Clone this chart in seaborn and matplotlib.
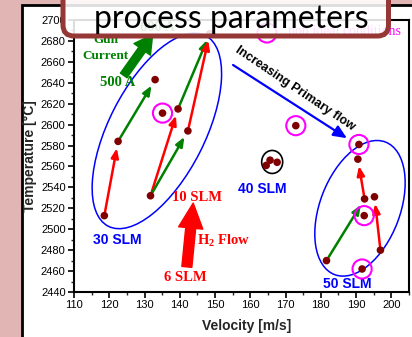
"""
Plasma torch process window - temperature vs velocity for several
primary flows, H2 flows and gun currents.
"""

import matplotlib
matplotlib.use("Agg")
import matplotlib.pyplot as plt
import seaborn as sns
from matplotlib.patches import Ellipse, Rectangle, FancyBboxPatch
from matplotlib.ticker import MultipleLocator
from matplotlib.transforms import ScaledTranslation

velocity = [118.6, 122.5, 133.0, 131.7, 139.5, 142.3, 148.5, 135.1,
            172.9, 164.5, 165.6, 167.6,
            190.8, 190.5, 192.4, 195.2, 192.3, 196.9, 181.6, 191.7]
temperature = [2513, 2584, 2643, 2532, 2615, 2594, 2687, 2611,
               2599, 2561, 2566, 2564,
               2581, 2567, 2529, 2531, 2513, 2480, 2470, 2462]
non_ideal = [0, 0, 0, 0, 0, 0, 0, 1,
             1, 0, 0, 0,
             1, 0, 0, 0, 1, 0, 0, 1]

# parameter changes between points: from index, to index, what changed
arrow_from = [0, 1, 3, 3, 4, 5, 14, 17, 18]
arrow_to = [1, 2, 4, 5, 6, 6, 13, 15, 14]
arrow_kind = ["h2", "current", "h2", "current", "current", "h2",
              "h2", "h2", "current"]

x_ticks = list(range(110, 201, 10))
y_ticks = list(range(2440, 2701, 20))

GREEN = "#008000"
RED = "#ff0000"
BLUE = "#0000ff"
MAGENTA = "#ff00ff"
kind_color = {"h2": RED, "current": GREEN}

sns.set_style("ticks")
plt.rcParams["font.family"] = ["Liberation Sans", "DejaVu Sans"]
plt.rcParams["mathtext.fontset"] = "custom"
plt.rcParams["mathtext.rm"] = "Liberation Serif:bold"
plt.rcParams["mathtext.it"] = "Liberation Serif:bold"

fig = plt.figure(figsize=(4.12, 3.37), dpi=100, facecolor="#e2b5b5")
# white slide panel with black frame
fig.add_artist(Rectangle((0.215, -0.2), 5, 3.525, transform=fig.dpi_scale_trans,
                         facecolor="white", edgecolor="black", lw=2, zorder=-5))

ax = fig.add_axes([74 / 412, 45 / 337, 335 / 412, 272 / 337])
ax.set_facecolor("white")

# ellipses around the primary flow groups (size in inches, centre in data)
def group_ellipse(cx, cy, a, b, angle, color, lw=1.1):
    tr = fig.dpi_scale_trans + ScaledTranslation(cx, cy, ax.transData)
    ax.add_patch(Ellipse((0, 0), 2 * a, 2 * b, angle=angle, transform=tr,
                         facecolor="none", edgecolor=color, lw=lw, zorder=2))

group_ellipse(133.5, 2594, 1.07, 0.48, 63, BLUE)
group_ellipse(191.1, 2520, 0.71, 0.40, 69, BLUE)
group_ellipse(166.2, 2564.3, 0.105, 0.115, 0, "black", lw=1.2)

# arrows between operating points
for i, j, k in zip(arrow_from, arrow_to, arrow_kind):
    ax.annotate("", xy=(velocity[j], temperature[j]),
                xytext=(velocity[i], temperature[i]),
                arrowprops=dict(arrowstyle="-|>,head_length=0.55,head_width=0.22",
                                color=kind_color[k], lw=1.8,
                                shrinkA=3, shrinkB=5),
                zorder=3)

sns.scatterplot(x=velocity, y=temperature, color="#800000", s=30,
                edgecolor="none", zorder=5, ax=ax)

bad_v = [v for v, f in zip(velocity, non_ideal) if f]
bad_t = [t for t, f in zip(temperature, non_ideal) if f]
ax.scatter(bad_v, bad_t, s=190, facecolors="none", edgecolors=MAGENTA,
           linewidths=1.5, zorder=6)

# big trend arrows
ax.annotate("", xy=(143.8, 2525), xytext=(142.0, 2464),
            arrowprops=dict(arrowstyle="simple,head_length=1.8,head_width=1.75,tail_width=0.72",
                            color=RED, shrinkA=0, shrinkB=0), zorder=4)
ax.annotate("", xy=(132.3, 2686), xytext=(124.1, 2647),
            arrowprops=dict(arrowstyle="simple,head_length=1.3,head_width=1.45,tail_width=0.58",
                            color=GREEN, shrinkA=0, shrinkB=0), zorder=4)
ax.annotate("", xy=(187.4, 2587), xytext=(155.1, 2657),
            arrowprops=dict(arrowstyle="-|>,head_length=0.8,head_width=0.35",
                            color=BLUE, lw=1.6, shrinkA=0, shrinkB=0), zorder=4)

serif_bold = dict(family="Liberation Serif", fontweight="bold", ha="center",
                  va="center", clip_on=False)
sans_bold = dict(family="Liberation Sans", fontweight="bold", ha="center",
                 va="center", clip_on=False)

ax.text(119.0, 2681, "Gun", color=GREEN, fontsize=9.5, **serif_bold)
ax.text(118.9, 2665.6, "Current", color=GREEN, fontsize=9.5, **serif_bold)
ax.text(122.3, 2639.8, "500 A", color=GREEN, fontsize=10.5, **serif_bold)
ax.text(133.7, 2692.4, "600 A", color=GREEN, fontsize=10.5, **serif_bold)
ax.text(144.9, 2530.8, "10 SLM", color=RED, fontsize=10.5, **serif_bold)
ax.text(152.4, 2488.8, r"H$_2$ Flow", color=RED, fontsize=10.5, **serif_bold)
ax.text(141.5, 2453.4, "6 SLM", color=RED, fontsize=10.5, **serif_bold)

ax.text(122.3, 2489.7, "30 SLM", color=BLUE, fontsize=10, **sans_bold)
ax.text(163.5, 2538.5, "40 SLM", color=BLUE, fontsize=10, **sans_bold)
ax.text(187.6, 2447.6, "50 SLM", color=BLUE, fontsize=10, **sans_bold)
ax.text(172.7, 2634.6, "Increasing Primary flow", color="black", fontsize=9,
        rotation=-34, rotation_mode="anchor", **sans_bold)

# legend entry for the circled points
ax.scatter([164.7], [2687.6], s=190, facecolors="none", edgecolors=MAGENTA,
           linewidths=1.5, clip_on=False, zorder=6)
ax.text(170.7, 2688.6, "non ideal conditions", color=MAGENTA, fontsize=10,
        family="Liberation Serif", ha="left", va="center", clip_on=False)

ax.set_xlim(110, 205)
ax.set_ylim(2440, 2700)
ax.set_xticks(x_ticks)
ax.set_yticks(y_ticks)
ax.xaxis.set_minor_locator(MultipleLocator(5))
ax.yaxis.set_minor_locator(MultipleLocator(10))
ax.tick_params(which="major", direction="out", length=4, width=1.2,
               labelsize=8, pad=2, colors="black")
ax.tick_params(which="minor", direction="out", length=2, width=1.0)
for s in ax.spines.values():
    s.set_linewidth(1.5)
    s.set_color("black")

ax.set_xlabel("Velocity [m/s]", fontsize=10, fontweight="bold")
ax.set_ylabel("Temperature [°C]", fontsize=10, fontweight="bold")
ax.xaxis.set_label_coords(0.515, -0.1)
ax.yaxis.set_label_coords(-0.11, 0.5)

# slide title box lying over the chart
fig.add_artist(FancyBboxPatch((0.63, 3.01), 3.255, 0.6,
                              boxstyle="round,pad=0,rounding_size=0.11",
                              transform=fig.dpi_scale_trans,
                              facecolor=(1, 1, 1, 0.87), edgecolor="#953735",
                              lw=3.6, zorder=10))
fig.text(231.5 / 412, (337 - 28) / 337, "process parameters", fontsize=23,
         family=["Lato", "DejaVu Sans"], ha="center", va="baseline",
         color="black", zorder=11)

fig.savefig("out.png", dpi=100, facecolor=fig.get_facecolor())
